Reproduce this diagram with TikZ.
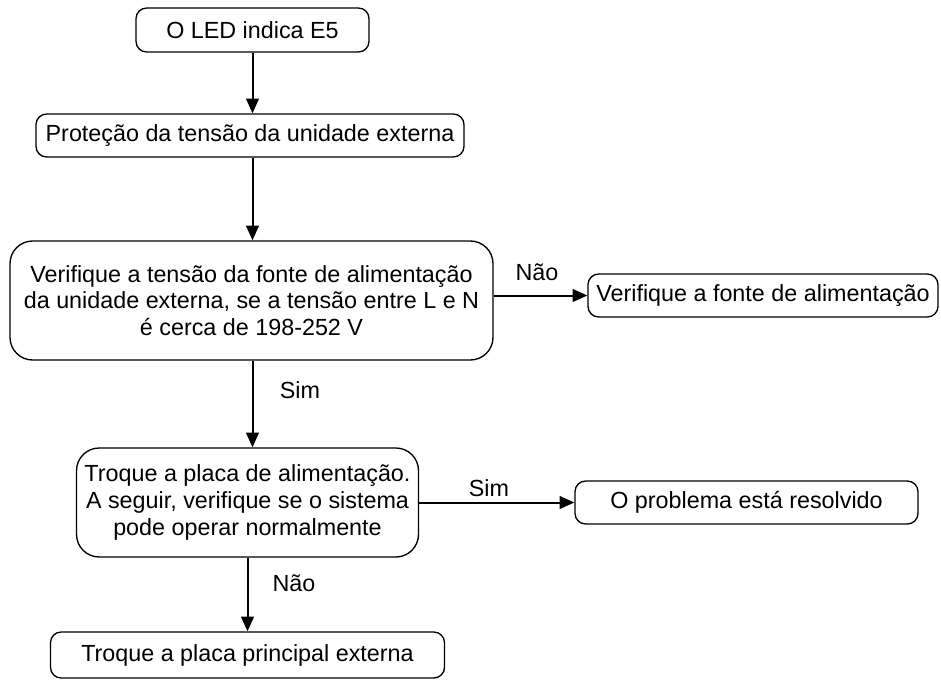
\documentclass[tikz,border=0pt]{standalone}
\usepackage{fontspec}
\setmainfont{Liberation Sans}
\usetikzlibrary{arrows.meta}

\tikzset{every picture/.style={line width=0.75pt}}
\tikzset{
  stepbox/.style={draw, line width=1pt, rounded corners=8pt, align=center, inner sep=0pt,
    font=\fontsize{17.5}{20}\selectfont},
  flowarrow/.style={line width=1.5pt, -{Triangle[length=11pt,width=9.5pt]}},
  flowlabel/.style={inner sep=0pt, font=\fontsize{17.5}{20}\selectfont}
}

\begin{document}
\begin{tikzpicture}[x=0.75pt,y=0.75pt,yscale=-1,xscale=1]
\useasboundingbox (0,0) rectangle (941,681);

% Boxes
\node [stepbox, minimum width=174.75pt, minimum height=33pt] (led) at (252.5,30) {O LED indica E5};
\node [stepbox, minimum width=321pt, minimum height=32.25pt] (prot) at (250,135.5) {Proteção da tensão da unidade externa};
\node [stepbox, rounded corners=17pt, minimum width=362.25pt, minimum height=89.25pt] (volt) at (251.5,300.5)
  {Verifique a tensão da fonte de alimentação\\da unidade externa, se a tensão entre L e N\\é cerca de 198-252 V};
\node [stepbox, minimum width=262.5pt, minimum height=32.25pt] (fonte) at (763,295.5) {Verifique a fonte de alimentação};
\node [stepbox, rounded corners=17pt, minimum width=256.5pt, minimum height=81.75pt] (placa) at (247.5,502.5)
  {Troque a placa de alimentação.\\A seguir, verifique se o sistema\\pode operar normalmente};
\node [stepbox, minimum width=257.25pt, minimum height=32.25pt] (ok) at (746.5,502.5) {O problema está resolvido};
\node [stepbox, minimum width=295.5pt, minimum height=34.5pt] (main) at (247.5,655) {Troque a placa principal externa};

% Connectors
\draw [flowarrow] (led.south) -- (led.south |- prot.north);
\draw [flowarrow] (prot.south -| led.south) -- (led.south |- volt.north);
\draw [flowarrow] (volt.east |- fonte.west) -- (fonte.west);
\draw [flowarrow] (volt.south -| led.south) -- (led.south |- placa.north);
\draw [flowarrow] (placa.east) -- (ok.west);
\draw [flowarrow] (placa.south) -- (main.north);

% Labels
\node [flowlabel] (nao1) at (537,272) {Não};
\node [flowlabel] (sim1) at (300,390) {Sim};
\node [flowlabel] (sim2) at (489,488) {Sim};
\node [flowlabel] (nao2) at (294,583) {Não};

\end{tikzpicture}
\end{document}
